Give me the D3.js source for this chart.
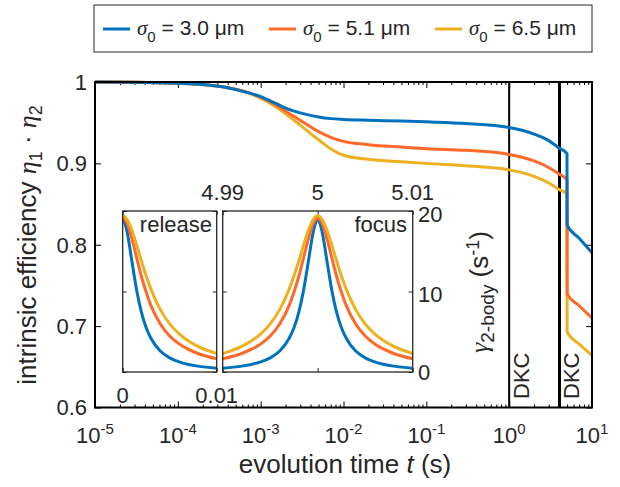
<!DOCTYPE html>
<html>
  <head>
    <meta charset="UTF-8" />
    <script src="https://cdnjs.cloudflare.com/ajax/libs/d3/7.8.5/d3.min.js"></script>
    <style>
      body { margin: 0; background: #fff; }
      svg { font-family: "Liberation Sans", Arial, sans-serif; }
      text { fill: #262626; }
      .ax path.domain { display: none; }
      .ax line { stroke: #000; stroke-width: 1; }
      .inset .ax line { stroke: #262626; }
    </style>
  </head>
  <body>
    <svg id="chart" width="620" height="487"></svg>
    <script>
      // series labels and colours
      const sigmaLabels = ["3.0", "5.1", "6.5"];
      const colors = ["#0072BD", "#FF6929", "#EDB120"];

      // main panel: efficiency vs evolution time (s)
      const mainTimes = [1e-5, 3e-5, 1e-4, 2e-4, 4e-4, 7e-4, 1e-3, 1.5e-3, 2e-3, 3e-3, 5e-3, 7e-3, 1e-2, 2e-2, 5e-2, 0.1, 0.3, 1, 2, 3, 4, 4.99, 5.01, 7, 10];
      const effBlue = [1.0, 0.9997, 0.9985, 0.997, 0.993, 0.987, 0.982, 0.974, 0.968, 0.962, 0.957, 0.955, 0.954, 0.953, 0.952, 0.951, 0.949, 0.944, 0.936, 0.928, 0.919, 0.912, 0.824, 0.808, 0.79];
      const effOrange = [1.0, 0.9997, 0.9985, 0.997, 0.993, 0.987, 0.981, 0.972, 0.964, 0.953, 0.939, 0.932, 0.927, 0.923, 0.92, 0.918, 0.916, 0.911, 0.903, 0.895, 0.887, 0.88, 0.74, 0.725, 0.71];
      const effYellow = [1.0, 0.9997, 0.9985, 0.997, 0.993, 0.987, 0.98, 0.97, 0.961, 0.947, 0.929, 0.918, 0.91, 0.905, 0.902, 0.9, 0.897, 0.892, 0.884, 0.876, 0.868, 0.862, 0.693, 0.678, 0.664];
      const dkcTimes = [1, 4.05];
      const yTicks = [0.6, 0.7, 0.8, 0.9, 1];
      const xDecades = [-5, -4, -3, -2, -1, 0, 1];

      // inset: two-body loss rate (1/s) vs offset from release / focus (ms)
      const gammaOffsets = [0, 0.25, 0.5, 1, 1.5, 2, 2.5, 3, 4, 5, 6, 7, 8, 10];
      const gammaBlue = [18.9, 18.45, 17.22, 13.59, 10.06, 7.38, 5.49, 4.19, 2.61, 1.76, 1.25, 0.94, 0.73, 0.47];
      const gammaOrange = [19.1, 18.91, 18.35, 16.46, 14.11, 11.83, 9.9, 8.28, 5.97, 4.48, 3.49, 2.8, 2.3, 1.64];
      const gammaYellow = [19.4, 19.27, 18.89, 17.54, 15.71, 13.76, 11.92, 10.3, 7.75, 5.98, 4.73, 3.84, 3.18, 2.29];
      const releaseTicks = [0, 0.01];
      const focusTicks = [4.99, 5, 5.01];
      const gammaTicks = [0, 10, 20];

      const svg = d3.select("#chart");

      const x = d3.scaleLog().domain([1e-5, 10]).range([95, 592]);
      const y = d3.scaleLinear().domain([0.6, 1]).range([407.5, 82]);

      const minorTicks = [];
      xDecades.slice(0, -1).forEach(e => {
        for (let k = 2; k <= 9; k++) minorTicks.push(k * Math.pow(10, e));
      });
      const majorTicks = xDecades.map(e => Math.pow(10, e));

      // axes, ticks pointing in
      const g = svg.append("g");
      g.append("g").attr("class", "ax").attr("transform", "translate(0,407.5)")
        .call(d3.axisBottom(x).tickValues(majorTicks).tickSize(-6).tickFormat(""));
      g.append("g").attr("class", "ax").attr("transform", "translate(0,407.5)")
        .call(d3.axisBottom(x).tickValues(minorTicks).tickSize(-3).tickFormat(""));
      g.append("g").attr("class", "ax").attr("transform", "translate(0,82)")
        .call(d3.axisTop(x).tickValues(majorTicks).tickSize(-6).tickFormat(""));
      g.append("g").attr("class", "ax").attr("transform", "translate(0,82)")
        .call(d3.axisTop(x).tickValues(minorTicks).tickSize(-3).tickFormat(""));
      g.append("g").attr("class", "ax").attr("transform", "translate(95,0)")
        .call(d3.axisLeft(y).tickValues(yTicks).tickSize(-6).tickFormat(""));
      g.append("g").attr("class", "ax").attr("transform", "translate(592,0)")
        .call(d3.axisRight(y).tickValues(yTicks).tickSize(-6).tickFormat(""));

      // x tick labels 10^n
      const xl = g.append("g").style("font-size", "22px");
      xDecades.forEach(e => {
        const t = xl.append("text")
          .attr("x", x(Math.pow(10, e)))
          .attr("y", 443)
          .attr("text-anchor", "middle");
        t.append("tspan").text("10");
        t.append("tspan").attr("dy", -9).style("font-size", "15px").text(e);
      });

      g.append("g").style("font-size", "22px")
        .selectAll("text").data(yTicks).join("text")
        .attr("x", 87)
        .attr("y", d => y(d))
        .attr("dy", "0.36em")
        .attr("text-anchor", "end")
        .text(d => d3.format("~g")(d));

      // DKC markers
      dkcTimes.forEach((t, i) => {
        g.append("line")
          .attr("x1", x(t)).attr("x2", x(t))
          .attr("y1", 82).attr("y2", 407.5)
          .attr("stroke", "#000")
          .attr("stroke-width", i === 0 ? 2 : 3);
        g.append("text")
          .attr("transform", `translate(${x(t) + 20},399) rotate(-90)`)
          .style("font-size", "22px")
          .text("DKC");
      });

      // main curves
      const effSeries = [effBlue, effOrange, effYellow];
      const mainLine = d3.line()
        .x((d, i) => x(mainTimes[i]))
        .y(d => y(d))
        .curve(d3.curveMonotoneX);
      [2, 1, 0].forEach(k => {
        g.append("path")
          .attr("d", mainLine(effSeries[k]))
          .attr("fill", "none")
          .attr("stroke", colors[k])
          .attr("stroke-width", 3);
      });

      // frame
      g.append("rect")
        .attr("x", 95).attr("y", 82)
        .attr("width", 497).attr("height", 325.5)
        .attr("fill", "none")
        .attr("stroke", "#000")
        .attr("stroke-width", 2);

      // axis labels
      g.append("text")
        .attr("x", 345).attr("y", 473)
        .attr("text-anchor", "middle")
        .style("font-size", "26px")
        .call(t => {
          t.append("tspan").text("evolution time ");
          t.append("tspan").style("font-style", "italic").text("t");
          t.append("tspan").text(" (s)");
        });

      const yl = g.append("text")
        .attr("transform", "translate(36,245) rotate(-90)")
        .attr("text-anchor", "middle")
        .style("font-size", "26px");
      yl.append("tspan").text("intrinsic efficiency ");
      yl.append("tspan").style("font-style", "italic").style("font-family", "Liberation Serif").text("η");
      yl.append("tspan").attr("dy", 6).style("font-size", "18px").text("1");
      yl.append("tspan").attr("dy", -6).text(" · ");
      yl.append("tspan").style("font-style", "italic").style("font-family", "Liberation Serif").text("η");
      yl.append("tspan").attr("dy", 6).style("font-size", "18px").text("2");

      // inset
      const ins = svg.append("g").attr("class", "inset");
      const yi = d3.scaleLinear().domain([0, 20]).range([372, 211]);
      const xr = d3.scaleLinear().domain([0, 0.01]).range([122.7, 216.7]);
      const xf = d3.scaleLinear().domain([4.99, 5.01]).range([222.7, 412.7]);

      ins.append("rect").attr("x", 122.7).attr("y", 211).attr("width", 94).attr("height", 161).attr("fill", "#fff");
      ins.append("rect").attr("x", 222.7).attr("y", 211).attr("width", 190).attr("height", 161).attr("fill", "#fff");

      const gammaSeries = [gammaBlue, gammaOrange, gammaYellow];

      // release panel
      const relLine = d3.line()
        .x((d, i) => xr(gammaOffsets[i] / 1000))
        .y(d => yi(d))
        .curve(d3.curveMonotoneX);
      // focus panel: mirrored around t = 5 s
      const focOffsets = gammaOffsets.slice(1).reverse().map(o => -o).concat(gammaOffsets);
      const focLine = d3.line()
        .x((d, i) => xf(5 + focOffsets[i] / 1000))
        .y(d => yi(d))
        .curve(d3.curveMonotoneX);

      const panel = (sx, ticksX, lineGen, dataFn) => {
        const p = ins.append("g");
        const [a, b] = sx.range();
        p.append("defs").append("clipPath").attr("id", "clip" + Math.round(a))
          .append("rect").attr("x", a).attr("y", 205).attr("width", b - a).attr("height", 170);
        p.append("g").attr("class", "ax").attr("transform", "translate(0,372)")
          .call(d3.axisBottom(sx).tickValues(ticksX).tickSize(-4).tickFormat(""));
        p.append("g").attr("class", "ax").attr("transform", "translate(0,211)")
          .call(d3.axisTop(sx).tickValues(ticksX).tickSize(-4).tickFormat(""));
        p.append("g").attr("class", "ax").attr("transform", `translate(${a},0)`)
          .call(d3.axisLeft(yi).tickValues(gammaTicks).tickSize(-4).tickFormat(""));
        p.append("g").attr("class", "ax").attr("transform", `translate(${b},0)`)
          .call(d3.axisRight(yi).tickValues(gammaTicks).tickSize(-4).tickFormat(""));
        const c = p.append("g").attr("clip-path", `url(#clip${Math.round(a)})`);
        [0, 1, 2].forEach(k => {
          c.append("path")
            .attr("d", lineGen(dataFn(gammaSeries[k])))
            .attr("fill", "none")
            .attr("stroke", colors[k])
            .attr("stroke-width", 3);
        });
        p.append("rect")
          .attr("x", a).attr("y", 211)
          .attr("width", b - a).attr("height", 161)
          .attr("fill", "none")
          .attr("stroke", "#262626")
          .attr("stroke-width", 1.3);
        return p;
      };

      panel(xr, releaseTicks, relLine, s => s);
      panel(xf, focusTicks, focLine, s => s.slice(1).reverse().concat(s));

      const il = ins.append("g").style("font-size", "22px");
      il.selectAll(".rl").data(releaseTicks).join("text")
        .attr("x", d => xr(d)).attr("y", 403)
        .attr("text-anchor", "middle")
        .text(d => d);
      il.selectAll(".fl").data(focusTicks).join("text")
        .attr("x", d => xf(d)).attr("y", 200)
        .attr("text-anchor", "middle")
        .text(d => d);
      il.selectAll(".gl").data(gammaTicks).join("text")
        .attr("x", 418).attr("y", d => yi(d))
        .attr("dy", d => d === 0 ? "0.36em" : "0.48em")
        .text(d => d);
      il.append("text").attr("x", 212).attr("y", 232).attr("text-anchor", "end").text("release");
      il.append("text").attr("x", 407).attr("y", 232).attr("text-anchor", "end").text("focus");

      const gl = ins.append("text")
        .attr("transform", "translate(488,292) rotate(-90)")
        .attr("text-anchor", "middle")
        .style("font-size", "26px");
      gl.append("tspan").style("font-family", "Liberation Serif").style("font-style", "italic").text("γ");
      gl.append("tspan").attr("dy", 6).style("font-size", "19px").text("2-body");
      gl.append("tspan").attr("dy", -6).text(" (s");
      gl.append("tspan").attr("dy", -9).style("font-size", "18px").text("-1");
      gl.append("tspan").attr("dy", 9).text(")");

      // legend
      const lg = svg.append("g");
      lg.append("rect")
        .attr("x", 94).attr("y", 5)
        .attr("width", 498).attr("height", 47)
        .attr("fill", "#fff")
        .attr("stroke", "#262626")
        .attr("stroke-width", 1);
      const legendX = [103, 269, 435];
      sigmaLabels.forEach((s, k) => {
        lg.append("line")
          .attr("x1", legendX[k]).attr("x2", legendX[k] + 27)
          .attr("y1", 29).attr("y2", 29)
          .attr("stroke", colors[k])
          .attr("stroke-width", 3);
        const t = lg.append("text")
          .attr("x", legendX[k] + 34).attr("y", 35)
          .style("font-size", "21px");
        t.append("tspan").style("font-family", "Liberation Serif").style("font-style", "italic").text("σ");
        t.append("tspan").attr("dy", 7).style("font-size", "15px").text("0");
        t.append("tspan").attr("dy", -7).text(` = ${s} μm`);
      });
    </script>
  </body>
</html>
